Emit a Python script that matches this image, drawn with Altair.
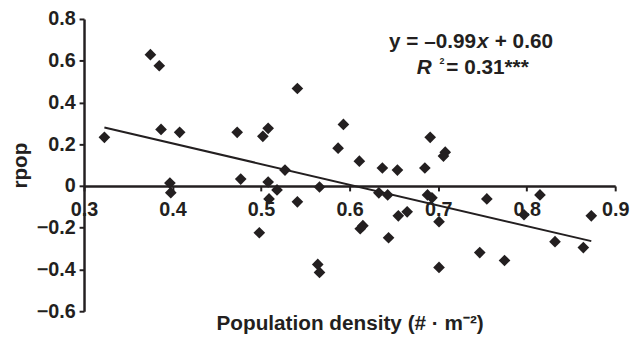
import altair as alt
import pandas as pd

# ---- data ----
density = [0.323, 0.375, 0.385, 0.387, 0.408, 0.473, 0.502, 0.508, 0.541, 0.527,
           0.593, 0.587, 0.611, 0.637, 0.654, 0.691, 0.708, 0.706, 0.685, 0.397,
           0.398, 0.477, 0.508, 0.509, 0.518, 0.541, 0.498, 0.566, 0.564, 0.566,
           0.633, 0.643, 0.612, 0.615, 0.655, 0.665, 0.644, 0.688, 0.693, 0.701,
           0.701, 0.755, 0.747, 0.815, 0.797, 0.832, 0.864, 0.873, 0.775]
rpop = [0.233, 0.629, 0.576, 0.271, 0.257, 0.257, 0.238, 0.276, 0.467, 0.076,
        0.295, 0.181, 0.119, 0.086, 0.076, 0.233, 0.162, 0.143, 0.086, 0.014,
        -0.032, 0.033, 0.019, -0.062, -0.019, -0.076, -0.224, -0.005, -0.376, -0.414,
        -0.033, -0.043, -0.205, -0.190, -0.143, -0.124, -0.248, -0.043, -0.057, -0.171,
        -0.390, -0.062, -0.319, -0.043, -0.138, -0.267, -0.295, -0.143, -0.357]
slope = -0.99
intercept = 0.60
r_squared = 0.31
x_ticks = [0.3, 0.4, 0.5, 0.6, 0.7, 0.8, 0.9]
y_ticks = [-0.6, -0.4, -0.2, 0.0, 0.2, 0.4, 0.6, 0.8]

df = pd.DataFrame({"density": density, "rpop": rpop})
xmin, xmax = min(density), max(density)
fit = pd.DataFrame({"density": [xmin, xmax],
                    "rpop": [slope * xmin + intercept, slope * xmax + intercept]})

FONT = "Liberation Sans"
INK = "#231f20"
W, H = 538, 296
y_lo, y_hi = y_ticks[0], y_ticks[-1]
x_axis_offset = -H * (0 - y_lo) / (y_hi - y_lo)

xscale = alt.Scale(domain=[x_ticks[0], x_ticks[-1]], nice=False, zero=False)
yscale = alt.Scale(domain=[y_lo, y_hi], nice=False, zero=False)

xaxis = alt.Axis(values=x_ticks, format=".1f", offset=x_axis_offset,
                 title="Population density (# · m⁻²)", titleY=139, titleBaseline="middle",
                 grid=False, domainWidth=2.5, domainColor=INK, tickColor=INK,
                 tickWidth=2, tickSize=5, labelFontSize=20, labelFontWeight="bold",
                 labelFont=FONT, labelColor=INK, labelPadding=9, labelFlush=False,
                 labelOverlap=False, titleFont=FONT, titleFontSize=21,
                 titleFontWeight="bold", titleColor=INK)
yaxis = alt.Axis(values=y_ticks, labelExpr="datum.value == 0 ? '0' : format(datum.value, '.1f')",
                 title="rpop", titleX=-64, titleBaseline="middle",
                 grid=False, domainWidth=2.5, domainColor=INK, tickColor=INK,
                 tickWidth=2, tickSize=5, labelFontSize=20, labelFontWeight="bold",
                 labelFont=FONT, labelColor=INK, labelPadding=4, labelFlush=False,
                 labelOverlap=False, titleFont=FONT, titleFontSize=21,
                 titleFontWeight="bold", titleColor=INK)

points = alt.Chart(df).mark_point(shape="diamond", filled=True, size=140,
                                  color=INK, opacity=1).encode(
    x=alt.X("density:Q", scale=xscale, axis=xaxis),
    y=alt.Y("rpop:Q", scale=yscale, axis=yaxis),
)

line = alt.Chart(fit).mark_line(color=INK, strokeWidth=2).encode(
    x=alt.X("density:Q", scale=xscale),
    y=alt.Y("rpop:Q", scale=yscale),
)


def txt(s, x, y, size=21, style="normal", align="left"):
    return alt.Chart(pd.DataFrame({"t": [s]})).mark_text(
        font=FONT, fontSize=size, fontWeight="bold", fontStyle=style,
        color=INK, align=align, baseline="middle").encode(
        text="t:N", x=alt.value(x), y=alt.value(y))


eq1 = f"y = –{abs(slope):.2f}"
eq2 = f"+ {intercept:.2f}"
r2 = f"= {r_squared:.2f}***"

ann = [
    txt(eq1, 397, 23, align="right"),
    txt("x", 398, 23, style="italic"),
    txt(eq2, 416, 23),
    txt("R", 337, 50, style="italic"),
    txt("2", 360, 43, size=9),
    txt(r2, 367, 50),
]

chart = alt.layer(line, points, *ann).properties(
    width=W, height=H, autosize="none",
    padding={"left": 77, "top": 9, "right": 16, "bottom": 24},
).configure_view(stroke=None)

chart.save("out.html", embed_options={"renderer": "svg", "actions": False})
